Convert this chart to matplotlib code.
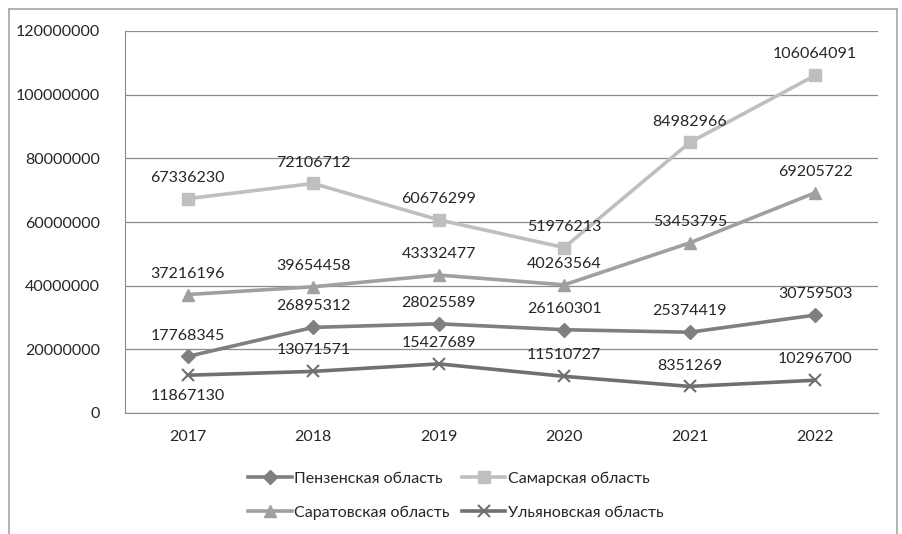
import matplotlib
matplotlib.use("Agg")
import matplotlib.pyplot as plt
from matplotlib.lines import Line2D

plt.rcParams['font.family'] = ['Lato', 'DejaVu Sans']

years = ["2017", "2018", "2019", "2020", "2021", "2022"]
penza = [17768345, 26895312, 28025589, 26160301, 25374419, 30759503]
samara = [67336230, 72106712, 60676299, 51976213, 84982966, 106064091]
saratov = [37216196, 39654458, 43332477, 40263564, 53453795, 69205722]
ulyanovsk = [11867130, 13071571, 15427689, 11510727, 8351269, 10296700]
names = ["Пензенская область", "Самарская область", "Саратовская область", "Ульяновская область"]
yticks = [0, 20000000, 40000000, 60000000, 80000000, 100000000, 120000000]

series = [
    (penza, '#7f7f7f', 'D', 7, names[0]),
    (samara, '#bfbfbf', 's', 9, names[1]),
    (saratov, '#a0a0a0', '^', 9, names[2]),
    (ulyanovsk, '#707070', 'x', 9, names[3]),
]

W, H = 902, 534
fig = plt.figure(figsize=(W/100, H/100), dpi=100)
ax = fig.add_axes([125/W, 1-413/H, (878-125)/W, (413-31)/H])

x = list(range(len(years)))
handles = []
for vals, col, mk, ms, nm in series:
    ln, = ax.plot(x, vals, color=col, lw=2.6, marker=mk, ms=ms, mfc=col, mec=col,
                  mew=1.5 if mk == 'x' else 1, label=nm)
    handles.append(ln)

fs = 11.5
for s_i, (vals, col, mk, ms, nm) in enumerate(series):
    for i, v in enumerate(vals):
        if s_i == 3 and i == 0:
            ax.annotate(f"{v}", (i, v), xytext=(0, -10), textcoords='offset points',
                        ha='center', va='top', fontsize=fs, color='#262626')
        else:
            ax.annotate(f"{v}", (i, v), xytext=(0, 10), textcoords='offset points',
                        ha='center', va='bottom', fontsize=fs, color='#262626')

ax.set_xlim(-0.5, len(years) - 0.5)
ax.set_ylim(0, 120000000)
ax.set_yticks(yticks)
ax.set_yticklabels([str(t) for t in yticks], fontsize=fs, color='#262626')
ax.set_xticks(x)
ax.set_xticklabels(years, fontsize=fs, color='#262626')
ax.tick_params(length=0, pad=12)
ax.tick_params(axis='y', pad=18)
ax.grid(axis='y', color='#8c8c8c', lw=0.9)
ax.set_axisbelow(True)
for side in ['top', 'right']:
    ax.spines[side].set_visible(False)
ax.spines['left'].set_color('#8c8c8c')
ax.spines['bottom'].set_color('#8c8c8c')

# row-major legend order: Penza, Samara / Saratov, Ulyanovsk
leg_handles = [handles[0], handles[2], handles[1], handles[3]]
leg = fig.legend(handles=leg_handles, loc='upper left', bbox_to_anchor=(242/W, 1-465/H),
                 ncol=2, frameon=False, fontsize=fs, handlelength=2.7, handletextpad=0.15,
                 columnspacing=0.8, labelspacing=1.25, borderaxespad=0, labelcolor='#262626')

# outer frame (bottom edge cut off)
fc = '#a6a6a6'
fig.add_artist(Line2D([9/W, 9/W], [0, 1-9/H], color=fc, lw=1.2, transform=fig.transFigure))
fig.add_artist(Line2D([897/W, 897/W], [0, 1-9/H], color=fc, lw=1.2, transform=fig.transFigure))
fig.add_artist(Line2D([9/W, 897/W], [1-9/H, 1-9/H], color=fc, lw=1.2, transform=fig.transFigure))

fig.savefig("out.png", dpi=100)
